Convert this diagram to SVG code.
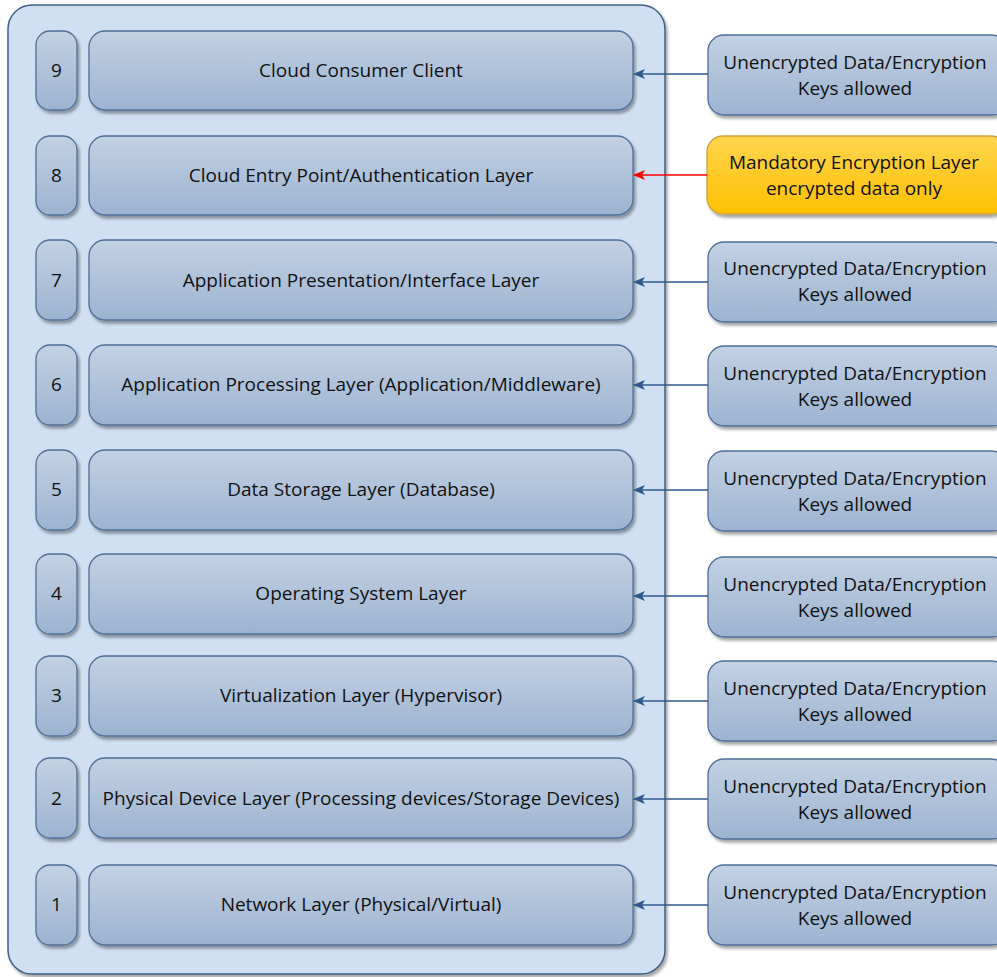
<svg xmlns="http://www.w3.org/2000/svg" width="997" height="977" viewBox="0 0 997 977">
<defs>
<linearGradient id="gb" x1="0" y1="0" x2="0" y2="1"><stop offset="0" stop-color="#c3d1e3"/><stop offset="1" stop-color="#9cb3d1"/></linearGradient>
<linearGradient id="gy" x1="0" y1="0" x2="0" y2="1"><stop offset="0" stop-color="#ffd54f"/><stop offset="1" stop-color="#ffc000"/></linearGradient>
<filter id="sh" x="-5%" y="-5%" width="115%" height="125%"><feDropShadow dx="2" dy="3" stdDeviation="1.5" flood-color="#000" flood-opacity="0.35"/></filter>
<marker id="ab" markerWidth="12" markerHeight="10" refX="11" refY="5" orient="auto" markerUnits="userSpaceOnUse"><path d="M0,0 L12,5 L0,10 L3,5 Z" fill="#2f5a8c"/></marker>
<marker id="ar" markerWidth="12" markerHeight="10" refX="11" refY="5" orient="auto" markerUnits="userSpaceOnUse"><path d="M0,0 L12,5 L0,10 L3,5 Z" fill="#ff0000"/></marker>
</defs>
<style>
.box{fill:url(#gb);stroke:#4f6f98;stroke-width:1.3;filter:url(#sh)}
.ybox{fill:url(#gy);stroke:#c9a23c;stroke-width:1.3;filter:url(#sh)}
text{font-family:"Open Sans","Liberation Sans",sans-serif;font-size:19px;fill:#111;text-anchor:middle;dominant-baseline:central}
.c{stroke:#2f5a8c;stroke-width:1.5;fill:none;marker-end:url(#ab)}
.cr{stroke:#ff0000;stroke-width:1.5;fill:none;marker-end:url(#ar)}
</style>
<rect x="8" y="5" width="657" height="969" rx="24" fill="#d0dff2" stroke="#3e5f88" stroke-width="1.5" filter="url(#sh)"/>

<g id="n9"><rect class="box" x="36" y="31" width="41" height="79" rx="14"/><text x="56.5" y="70">9</text>
<rect class="box" x="89" y="31" width="544" height="79" rx="16"/><text x="361" y="70">Cloud Consumer Client</text></g>
<g id="n8"><rect class="box" x="36" y="136" width="41" height="79" rx="14"/><text x="56.5" y="175">8</text>
<rect class="box" x="89" y="136" width="544" height="79" rx="16"/><text x="361" y="175">Cloud Entry Point/Authentication Layer</text></g>
<g id="n7"><rect class="box" x="36" y="240" width="41" height="80" rx="14"/><text x="56.5" y="280">7</text>
<rect class="box" x="89" y="240" width="544" height="80" rx="16"/><text x="361" y="280">Application Presentation/Interface Layer</text></g>
<g id="n6"><rect class="box" x="36" y="345" width="41" height="80" rx="14"/><text x="56.5" y="384">6</text>
<rect class="box" x="89" y="345" width="544" height="80" rx="16"/><text x="361" y="384">Application Processing Layer (Application/Middleware)</text></g>
<g id="n5"><rect class="box" x="36" y="450" width="41" height="80" rx="14"/><text x="56.5" y="489">5</text>
<rect class="box" x="89" y="450" width="544" height="80" rx="16"/><text x="361" y="489">Data Storage Layer (Database)</text></g>
<g id="n4"><rect class="box" x="36" y="554" width="41" height="80" rx="14"/><text x="56.5" y="593">4</text>
<rect class="box" x="89" y="554" width="544" height="80" rx="16"/><text x="361" y="593">Operating System Layer</text></g>
<g id="n3"><rect class="box" x="36" y="656" width="41" height="80" rx="14"/><text x="56.5" y="695">3</text>
<rect class="box" x="89" y="656" width="544" height="80" rx="16"/><text x="361" y="695">Virtualization Layer (Hypervisor)</text></g>
<g id="n2"><rect class="box" x="36" y="758" width="41" height="80" rx="14"/><text x="56.5" y="798">2</text>
<rect class="box" x="89" y="758" width="544" height="80" rx="16"/><text x="361" y="798">Physical Device Layer (Processing devices/Storage Devices)</text></g>
<g id="n1"><rect class="box" x="36" y="865" width="41" height="80" rx="14"/><text x="56.5" y="904">1</text>
<rect class="box" x="89" y="865" width="544" height="80" rx="16"/><text x="361" y="904">Network Layer (Physical/Virtual)</text></g>

<g id="r9"><rect class="box" x="708" y="35" width="300" height="80" rx="16"/><text x="855" y="62">Unencrypted Data/Encryption</text><text x="855" y="88">Keys allowed</text></g>
<g id="r8"><rect class="ybox" x="707" y="136" width="300" height="78" rx="16"/><text x="854" y="162">Mandatory Encryption Layer</text><text x="854" y="188">encrypted data only</text></g>
<g id="r7"><rect class="box" x="708" y="242" width="300" height="80" rx="16"/><text x="855" y="268">Unencrypted Data/Encryption</text><text x="855" y="294">Keys allowed</text></g>
<g id="r6"><rect class="box" x="708" y="346" width="300" height="80" rx="16"/><text x="855" y="373">Unencrypted Data/Encryption</text><text x="855" y="399">Keys allowed</text></g>
<g id="r5"><rect class="box" x="708" y="451" width="300" height="80" rx="16"/><text x="855" y="478">Unencrypted Data/Encryption</text><text x="855" y="504">Keys allowed</text></g>
<g id="r4"><rect class="box" x="708" y="557" width="300" height="80" rx="16"/><text x="855" y="584">Unencrypted Data/Encryption</text><text x="855" y="610">Keys allowed</text></g>
<g id="r3"><rect class="box" x="708" y="661" width="300" height="80" rx="16"/><text x="855" y="688">Unencrypted Data/Encryption</text><text x="855" y="714">Keys allowed</text></g>
<g id="r2"><rect class="box" x="708" y="759" width="300" height="80" rx="16"/><text x="855" y="786">Unencrypted Data/Encryption</text><text x="855" y="812">Keys allowed</text></g>
<g id="r1"><rect class="box" x="708" y="865" width="300" height="80" rx="16"/><text x="855" y="892">Unencrypted Data/Encryption</text><text x="855" y="918">Keys allowed</text></g>

<g id="connectors">
<path class="c" d="M708,74 H634"/>
<path class="cr" d="M707,175 H634"/>
<path class="c" d="M708,282 H634"/>
<path class="c" d="M708,385 H634"/>
<path class="c" d="M708,490 H634"/>
<path class="c" d="M708,596 H634"/>
<path class="c" d="M708,701 H634"/>
<path class="c" d="M708,799 H634"/>
<path class="c" d="M708,905 H634"/>
</g>
</svg>
